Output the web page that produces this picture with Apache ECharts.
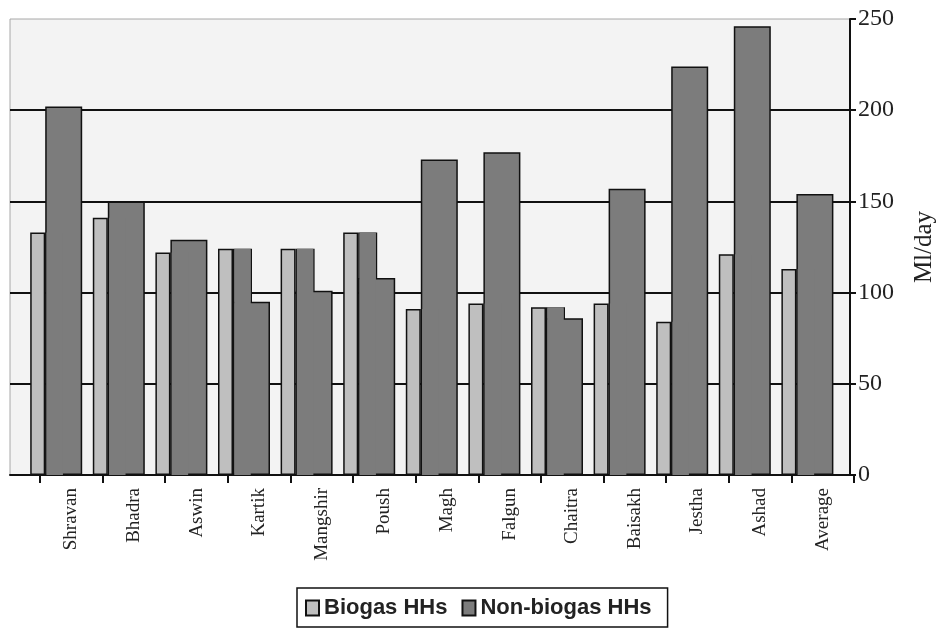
<!DOCTYPE html>
<html>
<head>
<meta charset="utf-8">
<script src="https://cdn.jsdelivr.net/npm/echarts@6/dist/echarts.min.js"></script>
<style>
  html, body { margin: 0; padding: 0; background: #ffffff; }
  #chart { width: 945px; height: 630px; }
</style>
</head>
<body>
<div id="chart"></div>
<script>
// ---- data ----
var categories = ['Shravan', 'Bhadra', 'Aswin', 'Kartik', 'Mangshir', 'Poush', 'Magh', 'Falgun', 'Chaitra', 'Baisakh', 'Jestha', 'Ashad', 'Average'];
var biogasHHs = [133, 141, 122, 124, 124, 133, 91, 94, 92, 94, 84, 121, 113];
var nonBiogasHHs = [202, 150, 129, 95, 101, 108, 173, 177, 86, 157, 224, 246, 154];
var yTicks = [0, 50, 100, 150, 200, 250];
var yAxisName = 'Ml/day';
var seriesNames = ['Biogas HHs', 'Non-biogas HHs'];

// ---- layout / styling ----
var TOP = 19, BOTTOM = 155;
var BAND_W = 813.8;
var serif = 'Liberation Serif';
var DARK = '#7c7c7c', LIGHT = '#bfbfbf', EDGE = '#111';
var yMin = yTicks[0], yMax = yTicks[yTicks.length - 1], yStep = yTicks[1] - yTicks[0];

function hiddenY(gi) {
  return { type: 'value', gridIndex: gi, min: yMin, max: yMax, interval: yStep, show: false };
}
function hiddenX(gi) {
  return { type: 'category', gridIndex: gi, data: categories, show: false, boundaryGap: true };
}

var chart = echarts.init(document.getElementById('chart'), null, { renderer: 'canvas' });
var option = {
  animation: false,
  backgroundColor: '#ffffff',
  grid: [
    // frame grid
    { left: 10, right: 92, top: TOP, bottom: BOTTOM, show: true, backgroundColor: '#f3f3f3', borderColor: '#a8a8a8', borderWidth: 1 },
    // category label grid
    { left: 40, right: 91, top: TOP, bottom: BOTTOM },
    // light bars
    { left: 6.4, width: BAND_W, top: TOP, bottom: BOTTOM },
    // overlapped part of the pair (outline)
    { left: 23.4, width: BAND_W, top: TOP, bottom: BOTTOM },
    // dark bars
    { left: 32.4, width: BAND_W, top: TOP, bottom: BOTTOM },
    // overlapped part of the pair (fill in front)
    { left: 23.4, width: BAND_W, top: TOP, bottom: BOTTOM }
  ],
  xAxis: [
    { type: 'value', gridIndex: 0, min: 0, max: 1, position: 'bottom',
      axisLine: { show: true, onZero: false, lineStyle: { color: EDGE, width: 2 } },
      axisTick: { show: false }, axisLabel: { show: false }, splitLine: { show: false } },
    { type: 'category', gridIndex: 1, data: categories, boundaryGap: true, position: 'bottom',
      axisLine: { show: false },
      axisTick: { show: true, length: 8, lineStyle: { color: EDGE, width: 2 } },
      axisLabel: { rotate: 90, margin: 13, fontFamily: serif, fontSize: 19, color: '#222', interval: 0 },
      splitLine: { show: false } },
    hiddenX(2), hiddenX(3), hiddenX(4), hiddenX(5)
  ],
  yAxis: [
    { type: 'value', gridIndex: 0, position: 'right', min: yMin, max: yMax, interval: yStep,
      axisLine: { show: true, onZero: false, lineStyle: { color: EDGE, width: 2 } },
      axisTick: { show: true, length: 6, lineStyle: { color: EDGE, width: 2 } },
      axisLabel: { margin: 8, fontFamily: serif, fontSize: 24, color: '#222' },
      splitLine: { show: true, lineStyle: { color: [EDGE, EDGE, EDGE, EDGE, EDGE, 'rgba(0,0,0,0)'], width: 2 } },
      name: yAxisName, nameLocation: 'middle', nameRotate: 90, nameGap: 62,
      nameTextStyle: { fontFamily: serif, fontSize: 25, color: '#222' } },
    hiddenY(1), hiddenY(2), hiddenY(3), hiddenY(4), hiddenY(5)
  ],
  legend: {
    data: seriesNames,
    icon: 'rect',
    left: 297, top: 588,
    padding: [9, 16, 8, 8],
    borderColor: EDGE, borderWidth: 1.5,
    itemWidth: 13, itemHeight: 15, itemGap: 14,
    textStyle: { fontFamily: 'Liberation Sans', fontSize: 22, fontWeight: 'bold', color: '#222' }
  },
  series: [
    { name: 'overlap-outline', type: 'bar', xAxisIndex: 3, yAxisIndex: 3, data: biogasHHs,
      barWidth: 19, z: 2, silent: true,
      itemStyle: { color: DARK, borderColor: EDGE, borderWidth: 1.5 } },
    { name: seriesNames[1], type: 'bar', xAxisIndex: 4, yAxisIndex: 4, data: nonBiogasHHs,
      barWidth: 37, z: 3,
      itemStyle: { color: DARK, borderColor: EDGE, borderWidth: 1.5 } },
    { name: 'overlap-fill', type: 'bar', xAxisIndex: 5, yAxisIndex: 5, data: biogasHHs,
      barWidth: 16.5, z: 4, silent: true,
      itemStyle: { color: DARK, borderWidth: 0 } },
    { name: seriesNames[0], type: 'bar', xAxisIndex: 2, yAxisIndex: 2, data: biogasHHs,
      barWidth: 15, z: 5,
      itemStyle: { color: LIGHT, borderColor: EDGE, borderWidth: 1.5 } }
  ]
};
chart.setOption(option);
</script>
</body>
</html>
